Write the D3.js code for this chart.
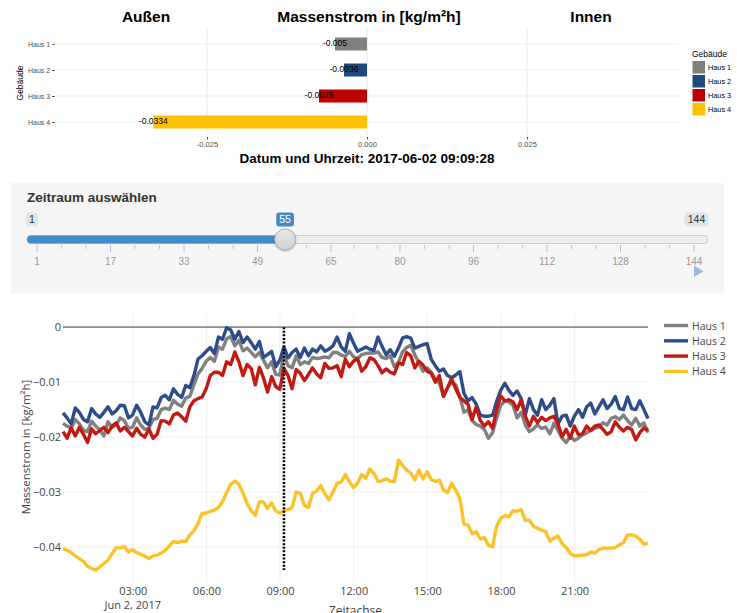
<!DOCTYPE html>
<html>
<head>
<meta charset="utf-8">
<script src="https://cdn.jsdelivr.net/npm/d3@7"></script>
<style>
  body { margin: 0; background: #fff; }
  svg { display: block; }
</style>
</head>
<body>
<svg id="chart" width="737" height="613"></svg>
<script>
// ---- data ----
var houses = ["Haus 1", "Haus 2", "Haus 3", "Haus 4"];
var barColors = ["#808080", "#1F497D", "#C00000", "#FFC000"];
var lineColors = ["#808080", "#2E4C8A", "#C21A12", "#FBC22A"];

// values at the selected time step (55)
var barValues = [-0.005, -0.0036, -0.0075, -0.0334];
var barTicks = [-0.025, 0, 0.025];

var sliderMin = 1, sliderMax = 144, sliderValue = 55;
var sliderTicks = [1, 17, 33, 49, 65, 80, 96, 112, 128, 144];

var startTime = new Date(2017, 5, 2, 0, 9, 28);   // step 1, 10 min per step
var timeTicks = ["03:00", "06:00", "09:00", "12:00", "15:00", "18:00", "21:00"];
var yTicks = [0, -0.01, -0.02, -0.03, -0.04];
var yTickLabels = ["0", "\u22120.01", "\u22120.02", "\u22120.03", "\u22120.04"];

var haus1 = [
  -0.0175,-0.0180,-0.0184,-0.0168,-0.0176,-0.0188,-0.0190,-0.0171,-0.0180,-0.0187,
  -0.0198,-0.0172,-0.0182,-0.0178,-0.0165,-0.0170,-0.0184,-0.0182,-0.0165,-0.0178,
  -0.0186,-0.0184,-0.0168,-0.0166,-0.0150,-0.0147,-0.0150,-0.0133,-0.0140,-0.0144,
  -0.0129,-0.0126,-0.0105,-0.0085,
  -0.0075,-0.0062,-0.0055,-0.0062,-0.0036,-0.0040,-0.0021,-0.0017,-0.0034,-0.0024,
  -0.0043,-0.0038,-0.0046,-0.0054,-0.0046,-0.0060,-0.0074,-0.0063,-0.0086,-0.0087,
  -0.0050,-0.0070,-0.0074,-0.0052,-0.0068,-0.0063,-0.0066,-0.0055,-0.0057,-0.0056,
  -0.0054,-0.0056,-0.0046,-0.0046,-0.0051,-0.0053,-0.0044,
  -0.0054,-0.0057,-0.0050,-0.0048,-0.0047,-0.0047,-0.0045,-0.0055,-0.0057,-0.0052,
  -0.0072,-0.0064,-0.0045,-0.0037,-0.0033,-0.0050,-0.0065,-0.0080,-0.0074,-0.0082,
  -0.0094,-0.0102,-0.0125,-0.0110,-0.0100,-0.0105,-0.0126,-0.0155,-0.0150,-0.0170,
  -0.0177,-0.0180,-0.0186,-0.0202,-0.0192,-0.0165,
  -0.0142,-0.0134,-0.0136,-0.0142,-0.0165,-0.0155,-0.0178,-0.0190,-0.0185,-0.0178,
  -0.0184,-0.0182,-0.0194,-0.0175,-0.0188,-0.0202,-0.0210,-0.0198,-0.0206,-0.0202,
  -0.0196,-0.0192,-0.0188,-0.0184,-0.0182,-0.0174,-0.0178,-0.0166,-0.0163,-0.0168,
  -0.0160,-0.0170,-0.0178,-0.0166,-0.0180,-0.0174,-0.0192
];
var haus2 = [
  -0.0156,-0.0165,-0.0176,-0.0147,-0.0155,-0.0168,-0.0172,-0.0148,-0.0158,-0.0164,
  -0.0155,-0.0145,-0.0158,-0.0152,-0.0142,-0.0143,-0.0165,-0.0160,-0.0142,-0.0155,
  -0.0172,-0.0178,-0.0145,-0.0147,-0.0128,-0.0124,-0.0132,-0.0112,-0.0122,-0.0128,
  -0.0106,-0.0110,-0.0088,-0.0058,
  -0.0052,-0.0044,-0.0037,-0.0048,-0.0018,-0.0022,-0.0001,-0.0005,-0.0022,-0.0008,
  -0.0028,-0.0018,-0.0028,-0.0040,-0.0026,-0.0055,-0.0050,-0.0044,-0.0072,-0.0060,
  -0.0036,-0.0056,-0.0046,-0.0040,-0.0055,-0.0038,-0.0052,-0.0040,-0.0045,-0.0034,
  -0.0044,-0.0040,-0.0034,-0.0018,-0.0036,-0.0044,-0.0012,
  -0.0029,-0.0044,-0.0040,-0.0036,-0.0040,-0.0042,-0.0018,-0.0035,-0.0050,-0.0041,
  -0.0053,-0.0038,-0.0020,-0.0017,-0.0020,-0.0038,-0.0035,-0.0032,-0.0030,-0.0058,
  -0.0070,-0.0080,-0.0076,-0.0088,-0.0092,-0.0087,-0.0081,-0.0120,-0.0134,-0.0128,
  -0.0140,-0.0160,-0.0162,-0.0162,
  -0.0160,-0.0135,-0.0115,-0.0102,-0.0115,-0.0124,-0.0116,-0.0130,-0.0160,-0.0130,
  -0.0150,-0.0160,-0.0132,-0.0150,-0.0142,-0.0130,-0.0176,-0.0162,-0.0160,-0.0180,
  -0.0162,-0.0150,-0.0164,-0.0145,-0.0138,-0.0158,-0.0145,-0.0132,-0.0148,-0.0140,
  -0.0126,-0.0148,-0.0150,-0.0127,-0.0148,-0.0150,-0.0134,-0.0150,-0.0166
];
var haus3 = [
  -0.0190,-0.0202,-0.0183,-0.0198,-0.0182,-0.0195,-0.0210,-0.0185,-0.0194,-0.0188,
  -0.0182,-0.0192,-0.0180,-0.0174,-0.0189,-0.0182,-0.0190,-0.0198,-0.0184,-0.0195,
  -0.0200,-0.0185,-0.0202,-0.0195,-0.0170,-0.0171,-0.0176,-0.0160,-0.0156,-0.0163,
  -0.0171,-0.0145,-0.0134,-0.0130,
  -0.0127,-0.0112,-0.0088,-0.0082,-0.0082,-0.0088,-0.0063,-0.0068,-0.0045,-0.0063,
  -0.0088,-0.0068,-0.0075,-0.0105,-0.0073,-0.0092,-0.0118,-0.0090,-0.0108,-0.0113,
  -0.0075,-0.0088,-0.0112,-0.0077,-0.0084,-0.0097,-0.0086,-0.0074,-0.0085,-0.0092,
  -0.0066,-0.0075,-0.0074,-0.0070,-0.0090,-0.0058,-0.0072,
  -0.0062,-0.0057,-0.0080,-0.0072,-0.0056,-0.0059,-0.0070,-0.0083,-0.0076,-0.0082,
  -0.0085,-0.0065,-0.0068,-0.0046,-0.0052,-0.0074,-0.0062,-0.0069,-0.0080,-0.0084,
  -0.0100,-0.0088,-0.0126,-0.0110,-0.0094,-0.0112,-0.0128,-0.0134,-0.0140,-0.0168,
  -0.0145,-0.0170,-0.0180,-0.0172,-0.0184,-0.0150,
  -0.0125,-0.0134,-0.0132,-0.0136,-0.0150,-0.0132,-0.0162,-0.0180,-0.0162,-0.0174,
  -0.0164,-0.0170,-0.0165,-0.0162,-0.0176,-0.0199,-0.0186,-0.0202,-0.0180,-0.0196,
  -0.0194,-0.0180,-0.0188,-0.0180,-0.0178,-0.0186,-0.0195,-0.0190,-0.0172,-0.0182,
  -0.0189,-0.0182,-0.0186,-0.0205,-0.0192,-0.0183,-0.0188
];
var haus4 = [
  -0.0403,-0.0406,-0.0410,-0.0416,-0.0421,-0.0426,-0.0435,-0.0439,-0.0442,-0.0436,
  -0.0430,-0.0424,-0.0412,-0.0401,-0.0402,-0.0399,-0.0409,-0.0405,-0.0410,-0.0413,
  -0.0417,-0.0421,-0.0416,-0.0415,-0.0411,-0.0406,-0.0398,-0.0390,-0.0392,-0.0389,
  -0.0390,-0.0378,-0.0370,-0.0357,-0.0339,-0.0338,-0.0335,-0.0333,-0.0328,-0.0317,
  -0.0301,-0.0286,-0.0280,-0.0286,-0.0302,-0.0321,-0.0334,-0.0342,-0.0318,-0.0318,
  -0.0330,-0.0320,-0.0334,-0.0338,-0.0334,-0.0332,-0.0328,-0.0300,-0.0302,-0.0324,
  -0.0328,-0.0302,-0.0298,-0.0288,-0.0303,-0.0314,-0.0300,-0.0284,-0.0282,-0.0268,
  -0.0281,-0.0292,-0.0284,-0.0268,-0.0275,-0.0258,-0.0266,-0.0281,-0.0279,-0.0276,
  -0.0280,-0.0281,-0.0242,-0.0251,-0.0260,-0.0265,-0.0278,-0.0260,-0.0276,-0.0263,
  -0.0277,-0.0281,-0.0278,-0.0296,-0.0301,-0.0284,-0.0297,-0.0311,-0.0358,-0.0360,
  -0.0376,-0.0372,-0.0385,-0.0383,-0.0397,-0.0400,-0.0362,-0.0348,-0.0343,-0.0345,
  -0.0334,-0.0335,-0.0332,-0.0352,-0.0351,-0.0362,-0.0366,-0.0369,-0.0372,-0.0389,
  -0.0384,-0.0380,-0.0394,-0.0401,-0.0412,-0.0416,-0.0416,-0.0415,-0.0414,-0.0409,
  -0.0411,-0.0405,-0.0402,-0.0402,-0.0402,-0.0401,-0.0396,-0.0392,-0.0378,-0.0378,
  -0.0380,-0.0386,-0.0395,-0.0393
];
var series = [haus1, haus2, haus3, haus4];

var svg = d3.select("#chart");
var sans = "'Liberation Sans', Arial, sans-serif";
var open = "'Open Sans', 'DejaVu Sans', sans-serif";

// ================= top: bar chart (ggplot look) =================
var xBar = d3.scaleLinear().domain([-0.0488, 0.0488]).range([54.7, 679.3]);
var yBar = d3.scalePoint().domain(houses).range([44, 122]);
var barH = 13;
var panelTop = 29, panelBottom = 137;

var barG = svg.append("g").attr("font-family", sans);

barG.selectAll(".title")
    .data([["Außen", 146], ["Massenstrom in [kg/m²h]", 369], ["Innen", 591]])
    .enter().append("text")
    .attr("x", function(d) { return d[1]; })
    .attr("y", 22)
    .attr("text-anchor", "middle")
    .attr("font-size", "15.5px")
    .attr("font-weight", "bold")
    .attr("fill", "#000")
    .text(function(d) { return d[0]; });

// grid
barG.selectAll(".vgrid").data(barTicks).enter().append("line")
    .attr("x1", function(d) { return xBar(d); }).attr("x2", function(d) { return xBar(d); })
    .attr("y1", panelTop).attr("y2", panelBottom)
    .attr("stroke", "#ebebeb").attr("stroke-width", 1.1);

barG.selectAll(".hgrid").data(houses).enter().append("line")
    .attr("x1", xBar.range()[0]).attr("x2", xBar.range()[1])
    .attr("y1", function(d) { return yBar(d); }).attr("y2", function(d) { return yBar(d); })
    .attr("stroke", "#ebebeb").attr("stroke-width", 1.1);

// bars
barG.selectAll(".bar").data(barValues).enter().append("rect")
    .attr("x", function(d) { return xBar(Math.min(0, d)); })
    .attr("width", function(d) { return Math.abs(xBar(d) - xBar(0)); })
    .attr("y", function(d, i) { return yBar(houses[i]) - barH / 2; })
    .attr("height", barH)
    .attr("fill", function(d, i) { return barColors[i]; });

barG.selectAll(".barlabel").data(barValues).enter().append("text")
    .attr("x", function(d) { return xBar(d); })
    .attr("y", function(d, i) { return yBar(houses[i]) + 1.5; })
    .attr("text-anchor", "middle")
    .attr("font-size", "8.5px")
    .attr("fill", "#000")
    .text(function(d) { return String(d); });

// axes
var yAxisBar = d3.axisLeft(yBar).tickSize(2.5).tickPadding(2);
barG.append("g")
    .attr("transform", "translate(" + xBar.range()[0] + ",0)")
    .call(yAxisBar)
    .call(function(g) {
        g.select(".domain").remove();
        g.selectAll(".tick line").attr("stroke", "#4d4d4d");
        g.selectAll(".tick text").attr("fill", "#4d4d4d").attr("font-size", "7px").attr("font-family", sans);
    });

var xAxisBar = d3.axisBottom(xBar).tickValues(barTicks).tickSize(2.5).tickPadding(2)
    .tickFormat(function(d) { return d.toFixed(3); });
barG.append("g")
    .attr("transform", "translate(0," + panelBottom + ")")
    .call(xAxisBar)
    .call(function(g) {
        g.select(".domain").remove();
        g.selectAll(".tick line").attr("stroke", "#4d4d4d");
        g.selectAll(".tick text").attr("fill", "#4d4d4d").attr("font-size", "7.5px").attr("font-family", sans);
    });

barG.append("text")
    .attr("transform", "translate(23,83) rotate(-90)")
    .attr("text-anchor", "middle")
    .attr("font-size", "8.5px")
    .attr("fill", "#000")
    .text("Gebäude");

barG.append("text")
    .attr("x", 367).attr("y", 163)
    .attr("text-anchor", "middle")
    .attr("font-size", "13.5px")
    .attr("font-weight", "bold")
    .attr("fill", "#000")
    .text("Datum und Uhrzeit: 2017-06-02 09:09:28");

// legend
var legBar = barG.append("g").attr("transform", "translate(692,0)");
legBar.append("text").attr("x", 0).attr("y", 57).attr("font-size", "8.5px").attr("fill", "#000").text("Gebäude");
legBar.selectAll("rect").data(houses).enter().append("rect")
    .attr("x", 0.5).attr("y", function(d, i) { return 61 + i * 14; })
    .attr("width", 12.5).attr("height", 12.5)
    .attr("fill", function(d, i) { return barColors[i]; });
legBar.selectAll(".lt").data(houses).enter().append("text")
    .attr("x", 16).attr("y", function(d, i) { return 70 + i * 14; })
    .attr("font-size", "7.3px").attr("fill", "#000")
    .text(function(d) { return d; });

// ================= slider =================
var sx = d3.scaleLinear().domain([sliderMin, sliderMax]).range([37, 694]);
var sl = svg.append("g").attr("font-family", sans);

sl.append("rect").attr("x", 11).attr("y", 183).attr("width", 713).attr("height", 110)
    .attr("fill", "#f5f5f5");

sl.append("text").attr("x", 27).attr("y", 202)
    .attr("font-size", "13.5px").attr("font-weight", "bold").attr("fill", "#333")
    .text("Zeitraum auswählen");

// track
sl.append("rect").attr("x", 27).attr("y", 235.5).attr("width", 681).attr("height", 8).attr("rx", 4)
    .attr("fill", "#ededed").attr("stroke", "#cccccc").attr("stroke-width", 1);
sl.append("rect").attr("x", 27).attr("y", 235.5).attr("width", sx(sliderValue) - 27).attr("height", 8).attr("rx", 4)
    .attr("fill", "#428bca");

// grid ticks
var minor = [];
for (var k = 0; k < sliderTicks.length - 1; k++) {
    var a = sx(sliderTicks[k]), b = sx(sliderTicks[k + 1]);
    minor.push(a + (b - a) / 3, a + 2 * (b - a) / 3);
}
sl.selectAll(".minor").data(minor).enter().append("line")
    .attr("x1", function(d) { return d; }).attr("x2", function(d) { return d; })
    .attr("y1", 245).attr("y2", 249)
    .attr("stroke", "#c8c8c8").attr("stroke-width", 1);
sl.selectAll(".major").data(sliderTicks).enter().append("line")
    .attr("x1", function(d) { return sx(d); }).attr("x2", function(d) { return sx(d); })
    .attr("y1", 245).attr("y2", 252)
    .attr("stroke", "#a9c1e3").attr("stroke-width", 1);
sl.selectAll(".glab").data(sliderTicks).enter().append("text")
    .attr("x", function(d) { return sx(d); }).attr("y", 264.5)
    .attr("text-anchor", "middle").attr("font-size", "10px").attr("fill", "#999")
    .text(function(d) { return d; });

// min/max/value labels
function sliderLabel(x, txt, bg, fg) {
    var box = sl.append("rect");
    var t = sl.append("text").attr("x", x).attr("y", 223)
        .attr("text-anchor", "middle").attr("font-size", "10.5px").attr("fill", fg).text(txt);
    var w = t.node().getComputedTextLength() + 6;
    box.attr("x", x - w / 2).attr("y", 212.5).attr("width", w).attr("height", 14).attr("rx", 3)
        .attr("fill", bg);
}
sliderLabel(32, String(sliderMin), "#e1e4e9", "#333");
sliderLabel(696.5, String(sliderMax), "#e1e4e9", "#333");
sliderLabel(sx(sliderValue), String(sliderValue), "#428bca", "#fff");

// handle
var grad = svg.append("defs").append("linearGradient").attr("id", "hg")
    .attr("x1", 0).attr("y1", 0).attr("x2", 0).attr("y2", 1);
grad.append("stop").attr("offset", "0%").attr("stop-color", "#e8e8e8");
grad.append("stop").attr("offset", "100%").attr("stop-color", "#d0d0d0");
sl.append("circle").attr("cx", sx(sliderValue)).attr("cy", 240.5).attr("r", 11.5)
    .attr("fill", "rgba(0,0,0,0.12)");
sl.append("circle").attr("cx", sx(sliderValue)).attr("cy", 239.5).attr("r", 10.5)
    .attr("fill", "url(#hg)").attr("stroke", "#ababab").attr("stroke-width", 1);

// play button
sl.append("path").attr("d", "M694,265.5 L694,277 L703.5,271.2 Z").attr("fill", "#9cb6de");

// ================= line chart (plotly look) =================
var times = haus1.map(function(d, i) { return d3.timeMinute.offset(startTime, 10 * i); });
var xLine = d3.scaleTime().domain([times[0], times[times.length - 1]]).range([63, 648]);
var yLine = d3.scaleLinear().domain([-0.0464, 0.00236]).range([582.2, 314.2]);
var parseHM = d3.timeParse("%Y-%m-%d %H:%M");
var tickDates = timeTicks.map(function(t) { return parseHM("2017-06-02 " + t); });

var lc = svg.append("g").attr("font-family", open);

lc.selectAll(".xg").data(tickDates).enter().append("line")
    .attr("x1", function(d) { return xLine(d); }).attr("x2", function(d) { return xLine(d); })
    .attr("y1", yLine.range()[1]).attr("y2", yLine.range()[0])
    .attr("stroke", "#eeeeee").attr("stroke-width", 1);
lc.selectAll(".yg").data(yTicks.filter(function(d) { return d !== 0; })).enter().append("line")
    .attr("x1", 63).attr("x2", 648)
    .attr("y1", function(d) { return yLine(d); }).attr("y2", function(d) { return yLine(d); })
    .attr("stroke", "#eeeeee").attr("stroke-width", 1);

// zero line
lc.append("line").attr("x1", 63).attr("x2", 648).attr("y1", yLine(0)).attr("y2", yLine(0))
    .attr("stroke", "#8c8c8c").attr("stroke-width", 1.6);

// tick labels
var yAxisLine = d3.axisLeft(yLine).tickValues(yTicks).tickSize(0).tickPadding(2)
    .tickFormat(function(d, i) { return yTickLabels[i]; });
lc.append("g").attr("transform", "translate(63,0)").call(yAxisLine)
    .call(function(g) {
        g.select(".domain").remove();
        g.selectAll(".tick text").attr("fill", "#444").attr("font-size", "11px").attr("font-family", open);
    });

var xAxisLine = d3.axisBottom(xLine).tickValues(tickDates).tickSize(0).tickPadding(5)
    .tickFormat(d3.timeFormat("%H:%M"));
lc.append("g").attr("transform", "translate(0,582)").call(xAxisLine)
    .call(function(g) {
        g.select(".domain").remove();
        g.selectAll(".tick text").attr("fill", "#444").attr("font-size", "11px").attr("font-family", open);
    });
lc.append("text").attr("x", xLine(tickDates[0])).attr("y", 608.5)
    .attr("text-anchor", "middle").attr("font-size", "11px").attr("fill", "#444")
    .text(d3.timeFormat("%b %-d, %Y")(tickDates[0]));

lc.append("text").attr("x", 355.5).attr("y", 615)
    .attr("text-anchor", "middle").attr("font-size", "12px").attr("fill", "#444")
    .text("Zeitachse");
lc.append("text").attr("transform", "translate(30,447) rotate(-90)")
    .attr("text-anchor", "middle").attr("font-size", "11.5px").attr("fill", "#444")
    .text("Massenstrom in [kg/m²h]");

// lines
var line = d3.line()
    .x(function(d, i) { return xLine(times[i]); })
    .y(function(d) { return yLine(d); });

lc.selectAll(".series").data(series).enter().append("path")
    .attr("d", line)
    .attr("fill", "none")
    .attr("stroke", function(d, i) { return lineColors[i]; })
    .attr("stroke-width", 3.4)
    .attr("stroke-linejoin", "round");

// marker line at selected step
var allMin = d3.min(series, function(s) { return d3.min(s); });
var allMax = d3.max(series, function(s) { return d3.max(s); });
var selTime = times[sliderValue - 1];
lc.append("line")
    .attr("x1", xLine(selTime)).attr("x2", xLine(selTime))
    .attr("y1", yLine(Math.max(0, allMax))).attr("y2", yLine(allMin))
    .attr("stroke", "#000").attr("stroke-width", 2.6).attr("stroke-dasharray", "2,1.6");

// legend
var legLine = lc.append("g").attr("transform", "translate(664,0)");
legLine.selectAll("line").data(houses).enter().append("line")
    .attr("x1", 0).attr("x2", 24)
    .attr("y1", function(d, i) { return 325.5 + i * 15.3; })
    .attr("y2", function(d, i) { return 325.5 + i * 15.3; })
    .attr("stroke", function(d, i) { return lineColors[i]; })
    .attr("stroke-width", 3.4);
legLine.selectAll("text").data(houses).enter().append("text")
    .attr("x", 28).attr("y", function(d, i) { return 329.5 + i * 15.3; })
    .attr("font-size", "10.5px").attr("fill", "#444")
    .text(function(d) { return d; });
</script>
</body>
</html>
